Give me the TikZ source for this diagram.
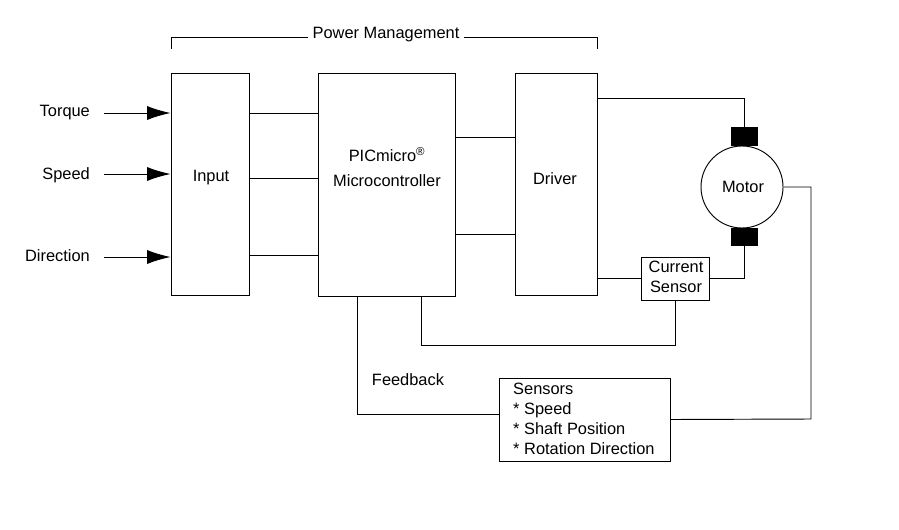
\documentclass[tikz,border=0pt]{standalone}
\usepackage{fontspec}
\setmainfont{Liberation Sans}
\usetikzlibrary{positioning}
\usetikzlibrary{arrows.meta}
\tikzset{
  blk/.style={draw, thick, inner sep=0pt},
  lbl/.style={font=\fontsize{14}{17}\selectfont},
  wire/.style={thick},
  arr/.style={thick, -{Latex[length=20pt,width=12pt]}},
  brush/.style={fill=black, draw=black}
}
\begin{document}
\begin{tikzpicture}[x=0.03cm,y=-0.03cm]
\useasboundingbox (0,0) rectangle (899,529);
% blocks
\node[blk, minimum width=78*0.03cm, minimum height=222*0.03cm] (input) at (210,184) {};
\node[lbl] at (211,178) {Input};
\node[blk, minimum width=137*0.03cm, minimum height=223*0.03cm] (mcu) at (386.5,184.5) {};
\node[lbl, align=center] at (387,167) {PICmicro\textsuperscript{\textregistered}\\[4pt]Microcontroller};
\node[blk, minimum width=82*0.03cm, minimum height=222*0.03cm] (drv) at (556,184) {};
\node[lbl] at (555,179) {Driver};
\node[blk, minimum width=68*0.03cm, minimum height=43*0.03cm] (cs) at (675,278.5) {};
\node[lbl, align=center, inner sep=0pt] at (676,277) {Current\\Sensor};
\node[blk, minimum width=171*0.03cm, minimum height=83*0.03cm] (sens) at (584.5,419.5) {};
\node[lbl, align=left, anchor=north west, inner sep=0pt] at (513,383)
  {Sensors\\ * Speed\\ * Shaft Position\\ * Rotation Direction};
% motor
\node[draw, thick, circle, minimum size=82*0.03cm] (motor) at (742,187) {};
\node[lbl] at (743,187) {Motor};
\node[brush, minimum width=26*0.03cm, minimum height=18*0.03cm, inner sep=0pt] (bt) at (744,136) {};
\node[brush, minimum width=26*0.03cm, minimum height=17*0.03cm, inner sep=0pt] (bb) at (744,237) {};
% power management bracket
\node[lbl] (pm) at (386,35) {Power Management};
\draw[wire] (pm.west |- 0,37) -- (171,37) -- (171,49);
\draw[wire] (pm.east |- 0,37) -- (597,37) -- (597,49);
% inputs
\node[lbl, anchor=east] (tq) at (94,113) {Torque};
\node[lbl, anchor=east] (sp) at (94,175) {Speed};
\node[lbl, anchor=east] (dir) at (94,256) {Direction};
\draw[arr] (104,113) -- (input.west |- 0,113);
\draw[arr] (104,174) -- (input.west |- 0,174);
\draw[arr] (104,257) -- (input.west |- 0,257);
% connections
\foreach \y in {113,178,255} \draw[wire] (input.east |- 0,\y) -- (mcu.west |- 0,\y);
\foreach \y in {137,234} \draw[wire] (mcu.east |- 0,\y) -- (drv.west |- 0,\y);
\draw[wire] (drv.east |- 0,98) -- (744,98) -- (bt.north);
\draw[wire] (drv.east |- cs.west) -- (cs.west);
\draw[wire] (cs.east) -- (744,278.5) -- (bb.south);
\draw[wire] (cs.south) -- (675,345) -- (421,345) -- (421,296);
\draw[wire] (357,296) -- (357,414) -- (sens.west |- 0,414);
\node[lbl] at (408,380) {Feedback};
\draw[wire] (motor.east) -- (811,187) -- (811,419) -- (sens.east);
\end{tikzpicture}
\end{document}
